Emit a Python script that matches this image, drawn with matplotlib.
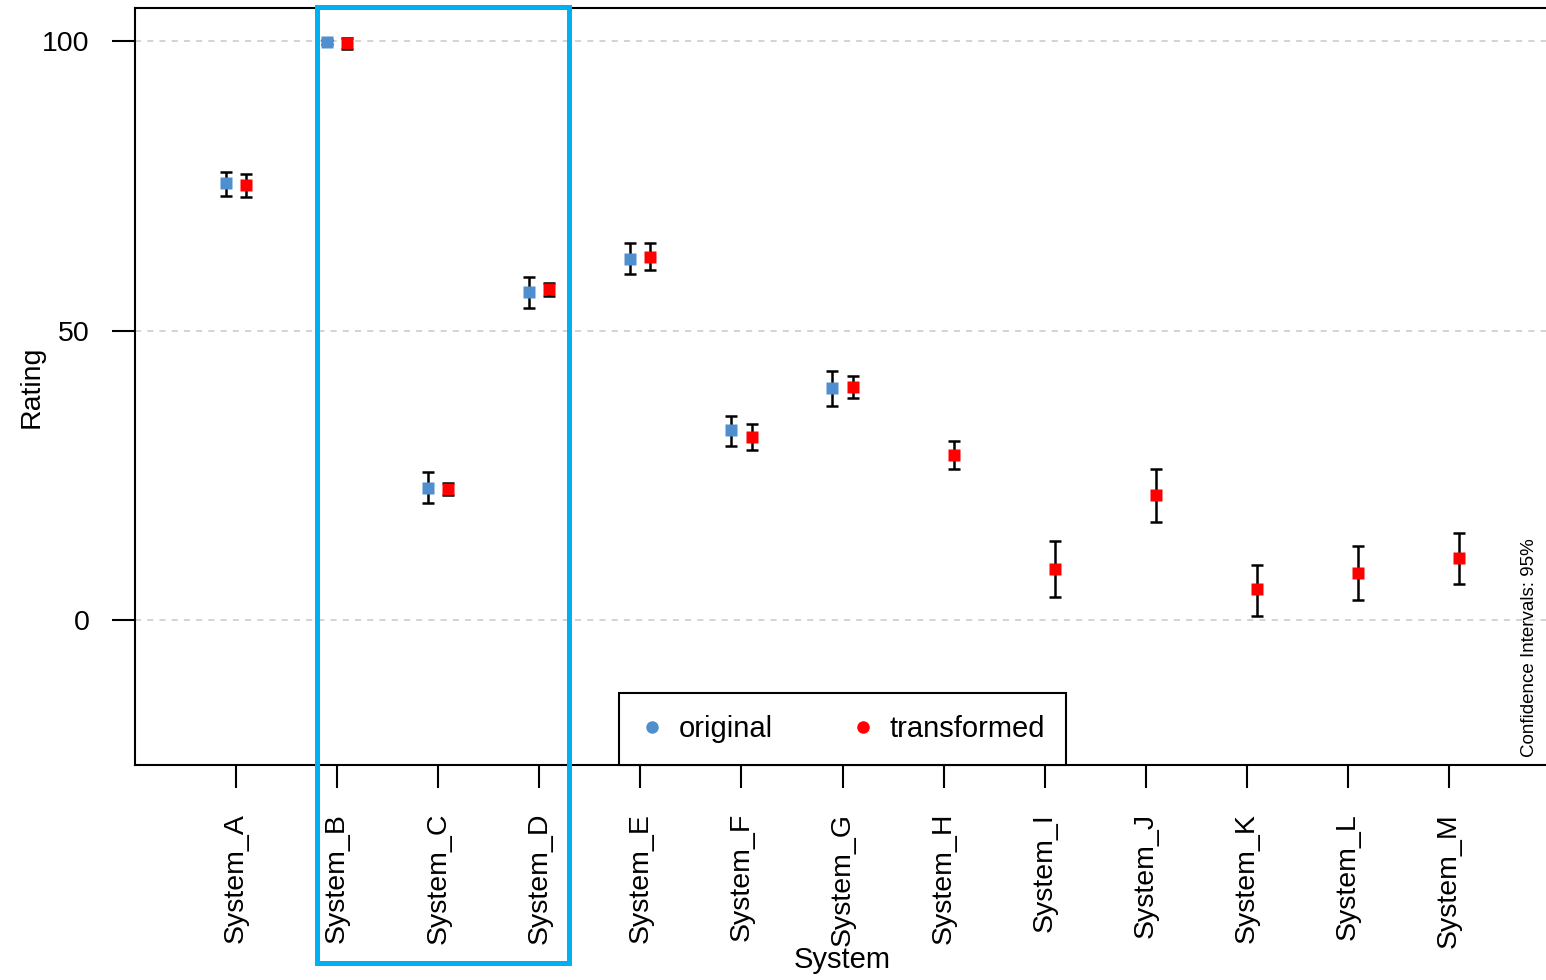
import numpy as np
import matplotlib
matplotlib.use("Agg")
import matplotlib.pyplot as plt
from matplotlib.lines import Line2D
from matplotlib.patches import Rectangle

plt.rcParams['font.family'] = ['Liberation Sans', 'DejaVu Sans']

# data
systems = ['System_A', 'System_B', 'System_C', 'System_D', 'System_E', 'System_F', 'System_G',
           'System_H', 'System_I', 'System_J', 'System_K', 'System_L', 'System_M']

# original ratings (only first 7 systems)
orig_mean = [75.5, 99.8, 22.9, 56.7, 62.4, 32.8, 40.1]
orig_low = [73.2, 99.5, 20.2, 53.9, 59.8, 30.1, 37.0]
orig_high = [77.3, 100.1, 25.6, 59.3, 65.1, 35.3, 43.0]

# transformed ratings (all systems)
trans_mean = [75.1, 99.6, 22.7, 57.2, 62.7, 31.7, 40.3, 28.6, 8.8, 21.6, 5.35, 8.2, 10.7]
trans_low = [73.1, 98.7, 21.7, 56.0, 60.4, 29.4, 38.4, 26.1, 4.0, 17.0, 0.75, 3.5, 6.3]
trans_high = [77.0, 100.5, 23.7, 58.3, 65.1, 33.8, 42.1, 31.0, 13.6, 26.1, 9.5, 12.8, 15.0]

blue = '#4f8fcf'
red = '#ff0000'

fig = plt.figure(figsize=(15.46, 9.8), dpi=100)
ax = fig.add_axes([135 / 1546, 215 / 980, 1415 / 1546, 757 / 980])

x = np.arange(1, len(systems) + 1)
xo = x[:len(orig_mean)] - 0.1
xt = x + 0.1

om = np.array(orig_mean)
tm = np.array(trans_mean)
oerr = [om - np.array(orig_low), np.array(orig_high) - om]
terr = [tm - np.array(trans_low), np.array(trans_high) - tm]

for v in [0, 50, 100]:
    ax.axhline(v, color='#c8c8c8', lw=1.1, dashes=(4, 4), zorder=0)

ax.errorbar(xo, om, yerr=oerr, fmt='s', color=blue, ms=8.6, mec='none',
            ecolor='black', elinewidth=1.8, capsize=4.3, capthick=1.8)
ax.errorbar(xt, tm, yerr=terr, fmt='s', color=red, ms=8.6, mec='none',
            ecolor='black', elinewidth=1.8, capsize=4.3, capthick=1.8)

ax.set_xlim(0, 14)
ax.set_ylim(-25, 105.7)
ax.set_yticks([0, 50, 100])
ax.set_xticks(x)
ax.set_xticklabels(systems, rotation=90, fontsize=20.5)
ax.tick_params(axis='y', labelsize=20.5, length=16.5, width=1.5, pad=16)
ax.tick_params(axis='x', length=16.5, width=1.5, pad=18)
for lbl in ax.get_yticklabels():
    lbl.set_y(lbl.get_position()[1])

for s in ['left', 'top', 'bottom']:
    ax.spines[s].set_linewidth(1.5)
ax.spines['right'].set_visible(False)

ax.set_xlabel('System', fontsize=21)
ax.xaxis.set_label_coords(0.5, -(946 - 765) / 757)
ax.set_ylabel('Rating', fontsize=20.5)
ax.yaxis.set_label_coords((45 - 135) / 1415, 0.5)

handles = [Line2D([], [], ls='none', marker='o', color=blue, ms=9, mec='none'),
           Line2D([], [], ls='none', marker='o', color=red, ms=9, mec='none')]
leg = ax.legend(handles, ['original', 'transformed'], loc='lower center',
                bbox_to_anchor=(0.5, 0), ncol=2, fontsize=21, frameon=True,
                fancybox=False, edgecolor='black', framealpha=1,
                handlelength=0.8, handletextpad=0.5, columnspacing=2.7,
                borderpad=0.75, borderaxespad=0)
leg.get_frame().set_linewidth(1.5)

fig.text(1530 / 1546, 1 - 757 / 980, 'Confidence Intervals: 95%', rotation=90,
         ha='center', va='bottom', fontsize=13.5)

# highlight box around System_B .. System_D
fig.patches.append(Rectangle((316.5 / 1546, 1 - 962.5 / 980), 252 / 1546, 955 / 980,
                             transform=fig.transFigure, fill=False,
                             edgecolor='#00b0f0', lw=3.6, zorder=10))

fig.savefig('out.png', dpi=100)
